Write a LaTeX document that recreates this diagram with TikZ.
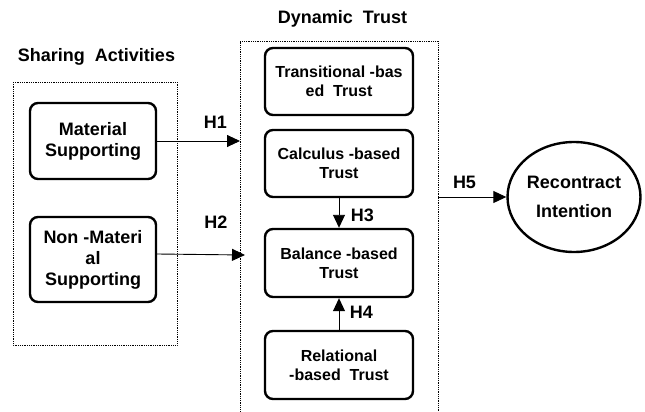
\documentclass[tikz,border=0pt]{standalone}
\usepackage{fontspec}
\setmainfont{Liberation Sans}
\usetikzlibrary{arrows.meta,shapes.geometric}
\begin{document}
\begin{tikzpicture}[x=1pt,y=-1pt,
  font=\bfseries,
  box/.style={draw,line width=2.4pt,rounded corners=8pt,align=center,inner sep=0pt},
  leftbox/.style={box,minimum width=126pt,font=\bfseries\fontsize{18}{21}\selectfont},
  trustbox/.style={box,minimum width=148pt,minimum height=67pt,font=\bfseries\fontsize{16}{19}\selectfont},
  group/.style={draw,densely dotted,line width=0.8pt},
  link/.style={line width=0.9pt,-{Triangle[length=13pt,width=12pt]}},
  hlabel/.style={anchor=base,font=\bfseries\fontsize{18}{21}\selectfont},
  title/.style={anchor=base,font=\bfseries\fontsize{18}{21}\selectfont}]
\useasboundingbox (0,0) rectangle (645,412);

% group frames
\draw[group] (13,82) rectangle (177,345);
\draw[group] (240,415) -- (240,41) -- (438,41) -- (438,415);

% titles
\node[title] (shtitle) at (96.5,62) {Sharing\ \ Activities};
\node[title] (dttitle) at (342.5,24) {Dynamic\ \ Trust};

% sharing activities
\node[leftbox,minimum height=76pt] (mat) at (93,141) {Material\\Supporting};
\node[leftbox,minimum height=85pt] (nonmat) at (93,259.5) {Non -Materi\\al\\Supporting};

% dynamic trust
\node[trustbox] (trans) at (339,81.5) {Transitional -bas\\ed\ \ Trust};
\node[trustbox] (calc) at (339,163.5) {Calculus -based\\Trust};
\node[trustbox,minimum height=68pt] (bal) at (339,263) {Balance -based\\Trust};
\node[trustbox,minimum height=68pt] (rel) at (339,365) {Relational\\-based\ \ Trust};

% outcome
\node[draw,ellipse,line width=2.4pt,minimum width=132pt,minimum height=110pt,inner sep=0pt,
      align=center,font=\bfseries\fontsize{18}{29}\selectfont] (rec) at (574,197) {Recontract\\Intention};

% free ends on the trust frame
\coordinate (h1end) at (240,141);
\coordinate (h2end) at (245,255);
\coordinate (h5start) at (438,197);

% hypotheses
\draw[link] (mat.east) -- (h1end);
\draw[link] (nonmat.east |- 0,254) -- (h2end);
\draw[link] (calc.south) -- (bal.north);
\draw[link] (rel.north) -- (bal.south);
\draw[link] (h5start) -- (rec.west);

\node[hlabel] (l1) at (215.5,128) {H1};
\node[hlabel] (l2) at (216,228) {H2};
\node[hlabel] (l3) at (362.5,221) {H3};
\node[hlabel] (l4) at (361.5,318) {H4};
\node[hlabel] (l5) at (464.5,188) {H5};
\end{tikzpicture}
\end{document}
